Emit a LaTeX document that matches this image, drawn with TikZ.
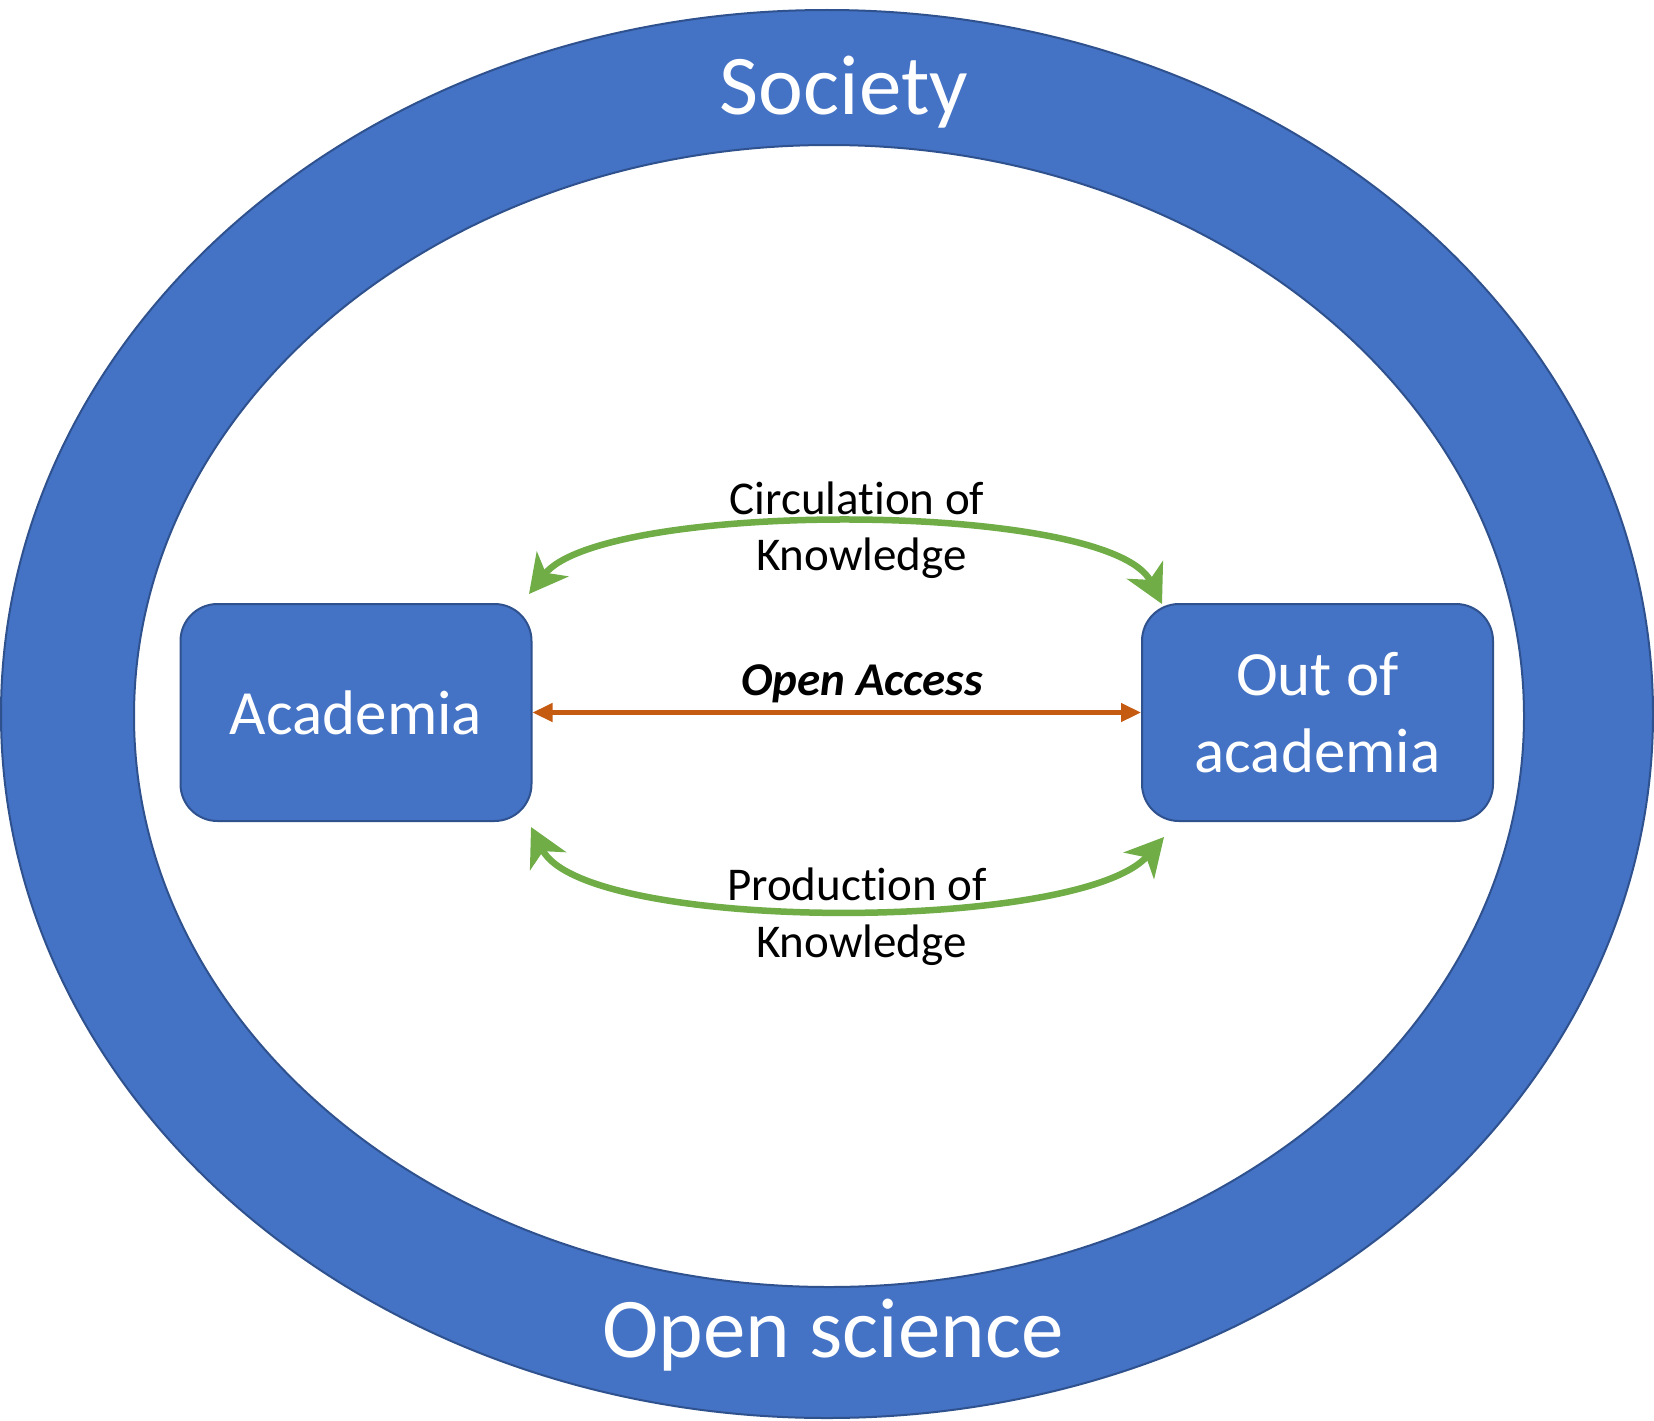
\documentclass[tikz,border=0pt]{standalone}
\usepackage{fontspec}
\setmainfont{Carlito}[Ligatures={NoCommon}]
\usetikzlibrary{arrows.meta}
\definecolor{cblue}{HTML}{4472C4}
\definecolor{cdark}{HTML}{2F528F}
\definecolor{cgreen}{HTML}{70AD47}
\definecolor{corange}{HTML}{C55A11}
\tikzset{
  boxnode/.style={draw=cdark, line width=2pt, fill=cblue, rounded corners=37pt,
    minimum width=351pt, minimum height=217pt, inner sep=0pt, text=white,
    align=center, font=\fontsize{63}{77}\selectfont},
  bigtext/.style={text=white, inner sep=0pt, anchor=base, font=\fontsize{85}{100}\selectfont},
  lbl/.style={text=black, inner sep=0pt, anchor=base, font=\fontsize{47}{57}\selectfont},
  greenarrow/.style={draw=cgreen, line width=6.5pt,
    {Stealth[length=38pt, width=40pt, inset=11pt]}-{Stealth[length=38pt, width=40pt, inset=11pt]}},
  orangearrow/.style={draw=corange, line width=4.5pt,
    {Triangle[length=20pt, width=18pt]}-{Triangle[length=20pt, width=18pt]}}
}
\begin{document}
\begin{tikzpicture}[x=1pt, y=-1pt]
\useasboundingbox (0,0) rectangle (1654,1421);
% rings
\fill[white] (0,0) rectangle (1654,1421);
\draw[draw=cdark, line width=2pt, fill=cblue] (827,714) ellipse [x radius=826, y radius=704];
\draw[draw=cdark, line width=2pt, fill=white] (829,716) ellipse [x radius=695, y radius=571];
\node[bigtext] (society) at (844,114) {Society};
\node[bigtext] (opensci) at (833,1357) {Open science};
% boxes
\node[boxnode] (acad) at (356,712.5) {Academia};
\node[boxnode] (out) at (1317.5,712.5) {Out of\\academia};
% open access
\draw[orangearrow] (acad.east) -- (out.west);
\node[lbl, font=\fontsize{47}{57}\selectfont\bfseries\itshape] (oa) at (862,695) {Open Access};
% green arrows
\coordinate (c1) at (529,594);
\coordinate (c2) at (1162,604);
\draw[greenarrow] (c1) .. controls (603,500) and (1110,500) .. (c2);
\coordinate (p1) at (531,827);
\coordinate (p2) at (1164,837);
\draw[greenarrow] (p1) .. controls (584,933) and (1080,933) .. (p2);
\node[lbl] (circ1) at (857,514) {Circulation of};
\node[lbl] (circ2) at (861.5,570) {Knowledge};
\node[lbl] (prod1) at (857,900) {Production of};
\node[lbl] (prod2) at (861.5,957) {Knowledge};
\end{tikzpicture}
\end{document}
